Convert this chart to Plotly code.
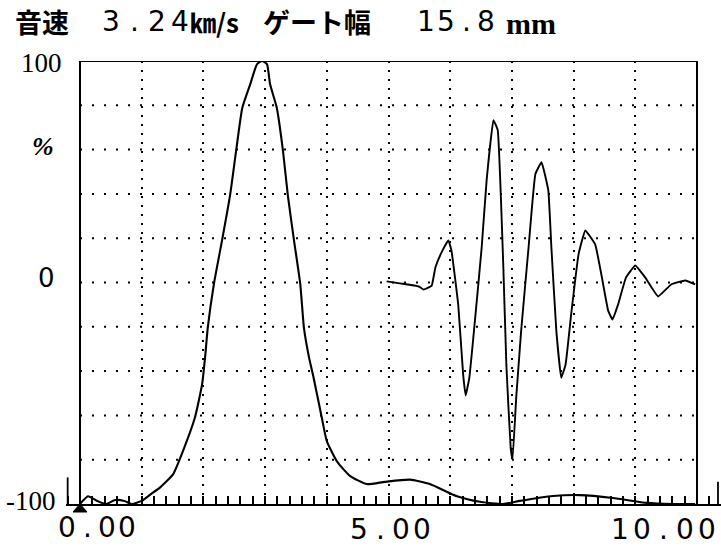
import plotly.graph_objects as go

# Amplitude spectrum (frequency in MHz, amplitude in %)
freq = [0.00, 0.13, 0.27, 0.42, 0.57, 0.72, 0.84, 1.00, 1.15, 1.30, 1.51, 1.67,
        1.86, 1.98, 2.03, 2.07, 2.17, 2.30, 2.43, 2.53, 2.63, 2.76, 2.87, 2.95,
        3.03, 3.08, 3.19, 3.29, 3.37, 3.47, 3.57, 3.63, 3.71, 3.78, 3.92, 4.00,
        4.17, 4.38, 4.65, 4.94, 5.35, 5.67, 6.11, 6.48, 6.86, 7.13, 7.67, 8.10,
        8.64, 9.19, 9.61, 9.97]
spectrum = [-100.0, -96.5, -98.5, -100.0, -98.2, -98.6, -100.0, -98.6, -95.5, -92.5, -86.5, -76.0,
            -61.2, -45.8, -33.0, -20.6, -0.7, 18.7, 39.0, 59.4, 78.8, 89.6, 98.6, 100.0,
            98.6, 89.6, 78.8, 59.4, 39.0, 18.7, -0.7, -20.6, -33.6, -42.2, -61.2, -71.6,
            -81.0, -87.4, -91.0, -90.0, -89.0, -91.0, -96.5, -99.0, -100.0, -98.6, -96.4, -96.0,
            -97.3, -99.5, -100.0, -100.0]

# Received waveform inside the gate (time axis shares the same scale)
wave_t = [4.97, 5.21, 5.49, 5.57, 5.70, 5.76, 5.86, 5.97, 6.02, 6.13, 6.21, 6.25,
          6.31, 6.41, 6.51, 6.59, 6.70, 6.77, 6.86, 6.91, 6.98, 7.01, 7.07, 7.15,
          7.27, 7.38, 7.48, 7.59, 7.64, 7.72, 7.80, 7.87, 7.96, 8.08, 8.19, 8.35,
          8.45, 8.56, 8.63, 8.72, 8.85, 9.00, 9.16, 9.37, 9.58, 9.81, 9.97]
wave_amp = [0.5, -0.5, -1.8, -3.2, -1.4, 6.8, 13.6, 19.0, 14.5, -10.0, -41.6, -51.0,
            -43.0, -14.5, 15.8, 46.0, 73.3, 68.8, 8.0, -37.0, -74.7, -80.0, -52.0, -21.7,
            15.8, 48.9, 54.3, 41.6, 15.8, -21.7, -43.0, -37.0, -14.5, 12.7, 23.5, 17.2,
            3.6, -12.7, -16.7, -10.0, 2.3, 7.7, 2.3, -6.3, -0.9, 0.9, -0.9]

# Header and axis texts
speed_label = "音速"
speed_value = "3.24"
speed_unit = "㎞/s"
gate_label = "ゲート幅"
gate_value = "15.8"
gate_unit = "mm"
x_tick_labels = ["0.00", "5.00", "10.00"]
y_tick_labels = ["100", "%", "0", "-100"]

W, H = 721, 548
ML, MR, MT, MB = 66, 0, 61, 44
PW, PH = W - ML - MR, H - MT - MB

X_MIN, X_MAX = 0.0, 10.0
ORIGIN_PX = 80          # pixel column of x = 0
PX_PER_UNIT = 61.7
x_range = [X_MIN - (ORIGIN_PX - ML) / PX_PER_UNIT,
           X_MIN + (W - MR - ORIGIN_PX) / PX_PER_UNIT]


def paper_x(px):
    return (px - ML) / PW


def paper_y(py):
    return (H - MB - py) / PH


fig = go.Figure()

fig.add_trace(go.Scatter(x=freq, y=spectrum, mode="lines",
                         line=dict(color="black", width=2.1, shape="spline", smoothing=0.5),
                         hoverinfo="skip"))
fig.add_trace(go.Scatter(x=wave_t, y=wave_amp, mode="lines",
                         line=dict(color="black", width=1.9, shape="spline", smoothing=0.3),
                         hoverinfo="skip"))

shapes = []
# dotted horizontal grid between the frame edges
for level in range(-80, 100, 20):
    shapes.append(dict(type="line", xref="x", yref="y", x0=X_MIN, x1=X_MAX, y0=level, y1=level,
                       layer="below",
                       line=dict(color="black", width=2, dash="2px,10px")))
# frame
shapes.append(dict(type="line", xref="x", yref="y", x0=X_MIN, x1=X_MIN, y0=-100, y1=100,
                   line=dict(color="black", width=2)))
shapes.append(dict(type="line", xref="x", yref="y", x0=X_MAX, x1=X_MAX, y0=-100, y1=100,
                   line=dict(color="black", width=2)))
shapes.append(dict(type="line", xref="x", yref="y", x0=X_MIN, x1=X_MAX, y0=100, y1=100,
                   line=dict(color="black", width=2.2)))
# ruler end marks
shapes.append(dict(type="line", xref="x", yref="y", x0=-0.2, x1=-0.2, y0=-100, y1=-88,
                   line=dict(color="black", width=1.8)))
shapes.append(dict(type="line", xref="x", yref="y", x0=10.34, x1=10.34, y0=-100, y1=-90,
                   line=dict(color="black", width=1.8)))
# origin pointer just under the baseline
half_w = 7 / PX_PER_UNIT
tri_h = 8 / PH
shapes.append(dict(type="path", xref="x", yref="paper",
                   path=f"M {X_MIN - half_w},{-tri_h} L {X_MIN + half_w},{-tri_h} L {X_MIN},0 Z",
                   fillcolor="black", line=dict(color="black", width=1)))

annotations = []


def spaced(text, first_center_px, pitch, cy, size, family, weight="normal"):
    for i, ch in enumerate(text):
        annotations.append(dict(text=ch, x=paper_x(first_center_px + i * pitch), y=paper_y(cy),
                                xref="paper", yref="paper", xanchor="center", yanchor="middle",
                                showarrow=False,
                                font=dict(size=size, family=family, color="black", weight=weight)))


def label(text, px, py, size, family, xanchor="left", weight="normal", style="normal"):
    annotations.append(dict(text=text, x=paper_x(px), y=paper_y(py), xref="paper", yref="paper",
                            xanchor=xanchor, yanchor="middle", showarrow=False,
                            font=dict(size=size, family=family, color="black",
                                      weight=weight, style=style)))


CJK = "Noto Sans CJK JP"
SANS = "DejaVu Sans"
SERIF = "Liberation Serif"

# header line
label(speed_label, 13, 21, 27, CJK, weight="bold")
spaced(speed_value, 111, 23, 22, 28, SANS)
label(speed_unit, 188, 22, 26, CJK, weight="bold")
label(gate_label, 261, 21, 27, CJK, weight="bold")
spaced(gate_value, 426, 20, 22, 28, SANS)
label(gate_unit, 504, 24, 30, SERIF, weight="bold")

# y-axis captions
label(y_tick_labels[0], 64, 63, 27, SERIF, xanchor="right")
label(y_tick_labels[1], 43, 146, 26, SERIF, xanchor="center", weight="bold", style="italic")
label(y_tick_labels[2], 46, 278, 26, SANS, xanchor="center")
label(y_tick_labels[3], 58, 501, 27, SERIF, xanchor="right")

# x-axis captions
spaced(x_tick_labels[0], 67, 20, 527, 28, SANS)
spaced(x_tick_labels[1], 359, 21, 529, 28, SANS)
spaced(x_tick_labels[2], 620, 21.7, 529, 28, SANS)

fig.update_layout(
    width=W, height=H,
    margin=dict(l=ML, r=MR, t=MT, b=MB),
    paper_bgcolor="white", plot_bgcolor="white",
    showlegend=False,
    shapes=shapes,
    annotations=annotations,
    xaxis=dict(range=x_range, showgrid=True, tick0=0, dtick=1,
               gridcolor="black", gridwidth=2, griddash="2px,7px",
               zeroline=False, showticklabels=False,
               ticks="inside", ticklen=8, tickwidth=1.6, tickcolor="black",
               minor=dict(dtick=0.2, tick0=0, ticks="inside", ticklen=8, tickwidth=1.6,
                          tickcolor="black", showgrid=False),
               showline=True, linecolor="black", linewidth=2.2, fixedrange=True),
    yaxis=dict(range=[-100, 100], showgrid=False, zeroline=False, showticklabels=False,
               showline=False, fixedrange=True),
)

fig.write_html("out.html", config=dict(displayModeBar=False))
